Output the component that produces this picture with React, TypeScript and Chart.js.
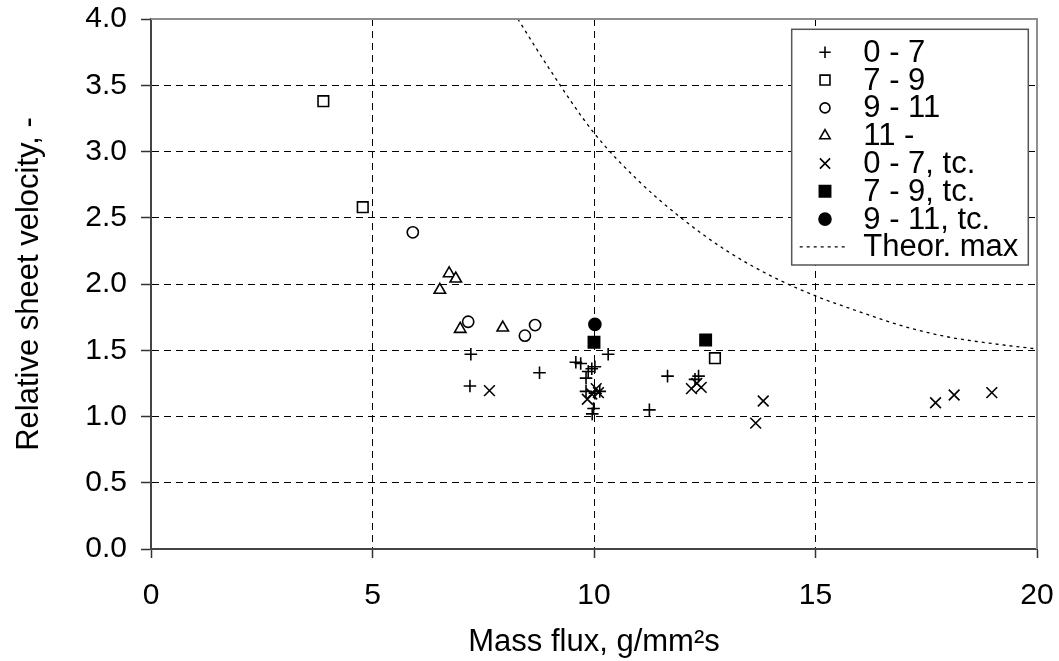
import React, { useEffect, useRef } from 'react';
import { Chart, registerables } from 'chart.js';

Chart.register(...registerables);

// ---- data ----
const xTickValues = [0, 5, 10, 15, 20];
const yTickValues = [0, 0.5, 1.0, 1.5, 2.0, 2.5, 3.0, 3.5, 4.0];

const seriesLabels = ['0 - 7', '7 - 9', '9 - 11', '11 -', '0 - 7, tc.', '7 - 9, tc.', '9 - 11, tc.', 'Theor. max'];

const set0to7: number[][] = [
  [7.22, 1.47], [7.20, 1.23], [8.77, 1.33], [9.59, 1.41], [9.70, 1.40], [9.87, 1.34],
  [9.95, 1.36], [10.02, 1.375], [9.82, 1.29], [9.82, 1.19], [10.02, 1.175], [10.13, 1.19],
  [9.99, 1.06], [9.96, 1.02], [10.32, 1.47], [11.66, 1.305], [11.25, 1.05], [12.28, 1.28], [12.36, 1.305],
];
const set7to9: number[][] = [[3.89, 3.38], [4.78, 2.58], [12.73, 1.44]];
const set9to11: number[][] = [[5.91, 2.39], [7.16, 1.715], [8.44, 1.61], [8.67, 1.69]];
const set11plus: number[][] = [[6.73, 2.08], [6.88, 2.04], [6.52, 1.955], [6.98, 1.66], [7.94, 1.67]];
const set0to7tc: number[][] = [
  [7.64, 1.195], [9.85, 1.13], [9.95, 1.17], [10.05, 1.21], [10.1, 1.18],
  [12.2, 1.21], [12.32, 1.25], [12.42, 1.22], [13.65, 0.95], [13.82, 1.117],
  [17.71, 1.104], [18.13, 1.162], [18.98, 1.18],
];
const set7to9tc: number[][] = [[10.0, 1.56], [12.52, 1.577]];
const set9to11tc: number[][] = [[10.02, 1.695]];
const theorMax: number[][] = [
  [8.28, 4.0], [9, 3.62], [10, 3.14], [11, 2.78], [12, 2.49], [13, 2.25], [14, 2.06],
  [15, 1.91], [16, 1.79], [17, 1.68], [18, 1.6], [19, 1.55], [20, 1.51],
];

const FONT = "'Liberation Sans', Arial, sans-serif";

const toPts = (a: number[][]) => a.map(([x, y]) => ({ x, y }));

type MarkerDef = { style: string; r: number; lr: number; fill: string };
const markerDefs: MarkerDef[] = [
  { style: 'cross', r: 6.3, lr: 5.7, fill: '#fff' },
  { style: 'rect', r: 7.5, lr: 7, fill: '#fff' },
  { style: 'circle', r: 5.6, lr: 5, fill: '#fff' },
  { style: 'triangle', r: 6.6, lr: 6, fill: '#fff' },
  { style: 'crossRot', r: 7.6, lr: 7.2, fill: '#fff' },
  { style: 'rect', r: 8, lr: 8, fill: '#000' },
  { style: 'circle', r: 6, lr: 6, fill: '#000' },
];

function drawMarker(ctx: CanvasRenderingContext2D, style: string, x: number, y: number, r: number, fill: string) {
  ctx.save();
  ctx.strokeStyle = '#000';
  ctx.fillStyle = fill;
  ctx.lineWidth = 1.6;
  ctx.beginPath();
  if (style === 'cross') {
    ctx.moveTo(x - r, y); ctx.lineTo(x + r, y);
    ctx.moveTo(x, y - r); ctx.lineTo(x, y + r);
    ctx.stroke();
  } else if (style === 'crossRot') {
    const d = r * Math.SQRT1_2;
    ctx.moveTo(x - d, y - d); ctx.lineTo(x + d, y + d);
    ctx.moveTo(x - d, y + d); ctx.lineTo(x + d, y - d);
    ctx.stroke();
  } else if (style === 'rect') {
    const s = r * Math.SQRT1_2;
    ctx.rect(x - s, y - s, 2 * s, 2 * s);
    ctx.fill(); ctx.stroke();
  } else if (style === 'circle') {
    ctx.arc(x, y, r, 0, Math.PI * 2);
    ctx.fill(); ctx.stroke();
  } else if (style === 'triangle') {
    let a = 0;
    ctx.moveTo(x + Math.sin(a) * r, y - Math.cos(a) * r);
    a += (2 * Math.PI) / 3;
    ctx.lineTo(x + Math.sin(a) * r, y - Math.cos(a) * r);
    a += (2 * Math.PI) / 3;
    ctx.lineTo(x + Math.sin(a) * r, y - Math.cos(a) * r);
    ctx.closePath();
    ctx.fill(); ctx.stroke();
  }
  ctx.restore();
}

const framePlugin = {
  id: 'frameAndLegend',
  afterDraw(chart: any) {
    const ctx: CanvasRenderingContext2D = chart.ctx;
    const a = chart.chartArea;
    ctx.save();
    // top & right frame
    ctx.strokeStyle = '#8f8f8f';
    ctx.lineWidth = 2;
    ctx.beginPath();
    ctx.moveTo(a.left, a.top);
    ctx.lineTo(a.right, a.top);
    ctx.lineTo(a.right, a.bottom);
    ctx.stroke();

    // legend box
    const bx = a.right - 245.3;
    const by = a.top + 10.3;
    const bw = 236.6;
    const bh = 235.7;
    ctx.fillStyle = '#fff';
    ctx.fillRect(bx, by, bw, bh);
    ctx.strokeStyle = '#555';
    ctx.lineWidth = 1.5;
    ctx.strokeRect(bx, by, bw, bh);

    ctx.font = `31px ${FONT}`;
    ctx.textBaseline = 'middle';
    ctx.textAlign = 'left';
    ctx.fillStyle = '#000';
    seriesLabels.forEach((label, i) => {
      const ry = by + 23 + i * 27.8;
      const mx = bx + 33.3;
      if (i < markerDefs.length) {
        const m = markerDefs[i];
        drawMarker(ctx, m.style, mx, ry, m.lr, m.fill);
      } else {
        ctx.save();
        ctx.strokeStyle = '#000';
        ctx.lineWidth = 1.3;
        ctx.setLineDash([3, 4]);
        ctx.beginPath();
        ctx.moveTo(bx + 8, ry);
        ctx.lineTo(bx + 57, ry);
        ctx.stroke();
        ctx.restore();
      }
      ctx.fillStyle = '#000';
      ctx.fillText(label, bx + 71.6, ry + 1);
    });
    ctx.restore();
  },
};

const zeroPad = (s: any) => {
  s.paddingTop = 0;
  s.paddingBottom = 0;
  s.paddingLeft = 0;
  s.paddingRight = 0;
};

export default function App() {
  const canvasRef = useRef<HTMLCanvasElement | null>(null);

  useEffect(() => {
    if (!canvasRef.current) return;
    const pointSets = [set0to7, set7to9, set9to11, set11plus, set0to7tc, set7to9tc, set9to11tc];
    const datasets: any[] = pointSets.map((s, i) => ({
      label: seriesLabels[i],
      data: toPts(s),
      showLine: false,
      pointStyle: markerDefs[i].style,
      pointRadius: markerDefs[i].r,
      pointHoverRadius: markerDefs[i].r,
      pointBorderWidth: 1.6,
      pointBorderColor: '#000',
      pointBackgroundColor: markerDefs[i].fill,
      borderColor: '#000',
      backgroundColor: markerDefs[i].fill,
    }));
    datasets.push({
      label: seriesLabels[7],
      data: toPts(theorMax),
      showLine: true,
      pointRadius: 0,
      borderColor: '#000',
      borderWidth: 1.3,
      borderDash: [3, 4],
      cubicInterpolationMode: 'monotone',
      fill: false,
    });

    const chart = new Chart(canvasRef.current, {
      type: 'scatter',
      data: { datasets },
      plugins: [framePlugin],
      options: {
        animation: false,
        responsive: false,
        events: [],
        layout: { padding: { left: 0, top: 19, right: 22, bottom: 0 } },
        plugins: { legend: { display: false }, tooltip: { enabled: false } },
        scales: {
          x: {
            type: 'linear',
            min: 0,
            max: 20,
            afterFit: (s: any) => { s.height = 112; zeroPad(s); },
            afterBuildTicks: (s: any) => { s.ticks = xTickValues.map((v) => ({ value: v })); },
            ticks: {
              color: '#000',
              font: { family: FONT, size: 30 },
              padding: 20,
              maxRotation: 0,
              callback: (v: any) => String(v),
            },
            grid: {
              color: '#000',
              lineWidth: 1,
              tickLength: 9,
              tickColor: '#333',
              tickWidth: 1.5,
            },
            border: { display: true, color: '#444', width: 2, dash: [7, 5] },
            title: {
              display: true,
              text: 'Mass flux, g/mm²s',
              color: '#000',
              font: { family: FONT, size: 31 },
              padding: { top: 0, bottom: 0 },
            },
          },
          y: {
            type: 'linear',
            min: 0,
            max: 4,
            afterFit: (s: any) => { s.width = 151; zeroPad(s); },
            afterBuildTicks: (s: any) => { s.ticks = yTickValues.map((v) => ({ value: v })); },
            ticks: {
              color: '#000',
              font: { family: FONT, size: 30 },
              padding: 14,
              callback: (v: any) => Number(v).toFixed(1),
            },
            grid: {
              color: '#000',
              lineWidth: 1,
              tickLength: 10,
              tickColor: '#333',
              tickWidth: 1.5,
            },
            border: { display: true, color: '#444', width: 2, dash: [7, 5] },
            title: {
              display: true,
              text: 'Relative sheet velocity, -',
              color: '#000',
              font: { family: FONT, size: 31 },
              padding: { top: 11, bottom: 0 },
            },
          },
        },
      } as any,
    });
    return () => chart.destroy();
  }, []);

  return (
    <div style={{ position: 'fixed', left: 0, top: 0, width: 1059, height: 661, background: '#fff' }}>
      <canvas ref={canvasRef} width={1059} height={661} style={{ width: 1059, height: 661, display: 'block' }} />
    </div>
  );
}
